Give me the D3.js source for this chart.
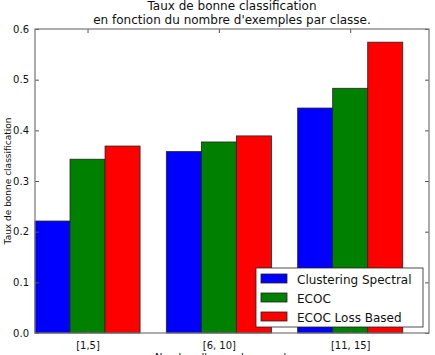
<!DOCTYPE html>
<html>
<head>
<meta charset="utf-8">
<script src="https://cdn.jsdelivr.net/npm/d3@7"></script>
<style>
  body { margin: 0; background: #fff; }
  text { font-family: "DejaVu Sans", sans-serif; fill: #111; }
</style>
</head>
<body>
<script>
'use strict';

const width = 435, height = 355;

const categories = ['[1,5]', '[6, 10]', '[11, 15]'];
const seriesNames = ['Clustering Spectral', 'ECOC', 'ECOC Loss Based'];
const seriesColors = ['#0000ff', '#008000', '#ff0000'];
const clusteringSpectral = [0.221, 0.358, 0.444];
const ecoc = [0.343, 0.377, 0.483];
const ecocLossBased = [0.369, 0.389, 0.574];
const yTicks = [0.0, 0.1, 0.2, 0.3, 0.4, 0.5, 0.6];

const series = [clusteringSpectral, ecoc, ecocLossBased];
const barW = 0.8 / 3;

const margin = { left: 35, right: 6, top: 29, bottom: 22 };

let svg = d3.select('body').append('svg')
  .attr('width', width)
  .attr('height', height);

let x = d3.scaleLinear().domain([0, 3]).range([margin.left, width - margin.right]);
let y = d3.scaleLinear().domain([0, 0.6]).range([height - margin.bottom, margin.top]);

// bars
series.forEach((vals, s) => {
  svg.append('g')
    .selectAll('rect')
    .data(vals)
    .join('rect')
    .attr('x', (d, i) => x(i + s * barW))
    .attr('width', x(barW) - x(0))
    .attr('y', d => y(d))
    .attr('height', d => y(0) - y(d))
    .attr('fill', seriesColors[s])
    .attr('stroke', '#222')
    .attr('stroke-width', 0.8);
});

// axes, ticks pointing inward
const tickPos = categories.map((c, i) => i + 1.5 * barW);

let xAxis = d3.axisBottom(x).tickValues(tickPos)
  .tickFormat((d, i) => categories[i]).tickSizeInner(-4).tickSizeOuter(0).tickPadding(9);
let xAxisTop = d3.axisTop(x).tickValues(tickPos)
  .tickFormat('').tickSizeInner(-4).tickSizeOuter(0);
let yAxis = d3.axisLeft(y).tickValues(yTicks)
  .tickFormat(d3.format('.1f')).tickSizeInner(-4).tickSizeOuter(0).tickPadding(6);
let yAxisRight = d3.axisRight(y).tickValues(yTicks)
  .tickFormat('').tickSizeInner(-4).tickSizeOuter(0);

function styleAxis(g) {
  g.select('.domain').remove();
  g.selectAll('line').attr('stroke', '#555');
  g.selectAll('text').attr('font-size', 10).attr('font-family', 'DejaVu Sans').attr('fill', '#222');
}

svg.append('g').attr('transform', `translate(0,${y(0)})`).call(xAxis).call(styleAxis);
svg.append('g').attr('transform', `translate(0,${y(0.6)})`).call(xAxisTop).call(styleAxis);
svg.append('g').attr('transform', `translate(${x(0)},0)`).call(yAxis).call(styleAxis);
svg.append('g').attr('transform', `translate(${x(3)},0)`).call(yAxisRight).call(styleAxis);

// frame
svg.append('rect')
  .attr('x', x(0)).attr('y', y(0.6))
  .attr('width', x(3) - x(0)).attr('height', y(0) - y(0.6))
  .attr('fill', 'none').attr('stroke', '#777').attr('stroke-width', 1.2);

// title
svg.append('text').attr('x', (x(0) + x(3)) / 2).attr('y', 9.5)
  .attr('text-anchor', 'middle').attr('font-size', 12)
  .text('Taux de bonne classification');
svg.append('text').attr('x', (x(0) + x(3)) / 2).attr('y', 24)
  .attr('text-anchor', 'middle').attr('font-size', 12)
  .text("en fonction du nombre d'exemples par classe.");

// axis labels
svg.append('text')
  .attr('transform', `translate(11,${(y(0) + y(0.6)) / 2}) rotate(-90)`)
  .attr('text-anchor', 'middle').attr('font-size', 9)
  .text('Taux de bonne classification');
svg.append('text').attr('x', (x(0) + x(3)) / 2).attr('y', 361)
  .attr('text-anchor', 'middle').attr('font-size', 10)
  .text("Nombre d'exemples par classe");

// legend
let legend = svg.append('g').attr('transform', 'translate(256,268)');
legend.append('rect').attr('width', 167).attr('height', 59)
  .attr('fill', '#fff').attr('stroke', '#222').attr('stroke-width', 0.8);
seriesNames.forEach((name, i) => {
  let row = legend.append('g').attr('transform', `translate(0,${11 + i * 19})`);
  row.append('rect').attr('x', 5).attr('y', -5).attr('width', 26).attr('height', 9)
    .attr('fill', seriesColors[i]).attr('stroke', '#222').attr('stroke-width', 0.8);
  row.append('text').attr('x', 41).attr('y', 4.5).attr('font-size', 12).text(name);
});
</script>
</body>
</html>
